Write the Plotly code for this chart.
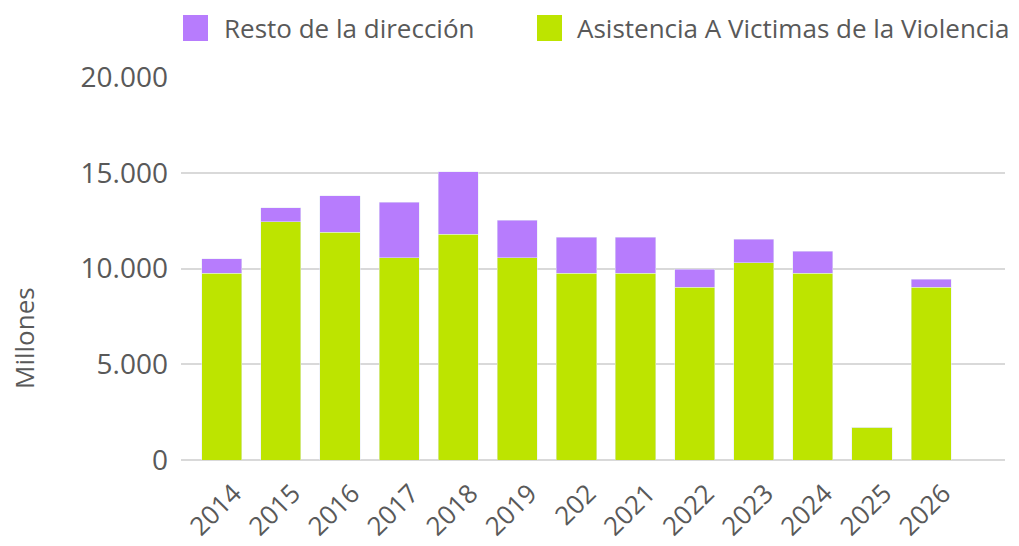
import plotly.graph_objects as go

years = ["2014", "2015", "2016", "2017", "2018", "2019", "202",
         "2021", "2022", "2023", "2024", "2025", "2026"]
asistencia = [9760, 12430, 11900, 10550, 11800, 10550, 9760,
              9760, 9030, 10290, 9760, 1720, 9030]
resto = [740, 730, 1890, 2920, 3240, 1980, 1880,
         1880, 940, 1250, 1150, 0, 420]

name_resto = "Resto de la dirección"
name_asist = "Asistencia A Victimas de la Violencia"
col_resto = "#b77cfd"
col_asist = "#bde400"

FONT = "Open Sans"
GREY = "#595959"

# page body has an 8px margin, so shift everything back by that
OFF = 8
L, R, T, B = 181 - OFF, 1005 - OFF, 77 - OFF, 460 - OFF
W, H = R - L, B - T

fig = go.Figure()
fig.add_trace(go.Bar(x=years, y=asistencia, name=name_asist,
                     marker_color=col_asist, width=0.68, showlegend=False))
fig.add_trace(go.Bar(x=years, y=resto, name=name_resto,
                     marker_color=col_resto, width=0.68, showlegend=False))

# legend drawn by hand so the swatches can be as big as in the original
for x0, x1, tx, col, name in [(183, 208, 222, col_resto, name_resto),
                              (537, 562, 575, col_asist, name_asist)]:
    fig.add_shape(type="rect", xref="paper", yref="paper",
                  x0=(x0 - OFF - L) / W, x1=(x1 - OFF - L) / W,
                  y0=(B - 41 + OFF) / H, y1=(B - 15 + OFF) / H,
                  fillcolor=col, line_width=0)
    fig.add_annotation(text=name, xref="paper", yref="paper",
                       x=(tx - OFF - L) / W, y=(B - 28 + OFF) / H,
                       xanchor="left", yanchor="middle", showarrow=False,
                       font=dict(family=FONT, size=26, color=GREY))

fig.add_annotation(text="Millones", xref="paper", yref="paper",
                   x=(24 - OFF - L) / W, y=(B - 338 + OFF) / H, textangle=-90,
                   xanchor="center", yanchor="middle", showarrow=False,
                   borderpad=0, font=dict(family=FONT, size=26, color=GREY))

fig.update_layout(
    barmode="stack",
    width=1019, height=546,
    margin=dict(l=L, r=1019 - R, t=T, b=546 - B),
    plot_bgcolor="white", paper_bgcolor="white",
    font=dict(family=FONT, color=GREY),
)
fig.update_xaxes(type="category", range=[-0.69, 13.25], tickangle=-45,
                 tickfont=dict(size=26, color=GREY), showgrid=False,
                 showline=False, ticks="", automargin=False,
                 ticklabelshift=12, ticklabelstandoff=12)
fig.update_yaxes(range=[0, 20000], tickvals=[0, 5000, 10000, 15000, 20000],
                 ticktext=["0", "5.000", "10.000", "15.000", "20.000"],
                 tickfont=dict(size=28, color=GREY), gridcolor="#d9d9d9",
                 gridwidth=2, zeroline=True, zerolinecolor="#d9d9d9",
                 zerolinewidth=2, ticklabelstandoff=12, automargin=False)

fig.write_html("out.html")
